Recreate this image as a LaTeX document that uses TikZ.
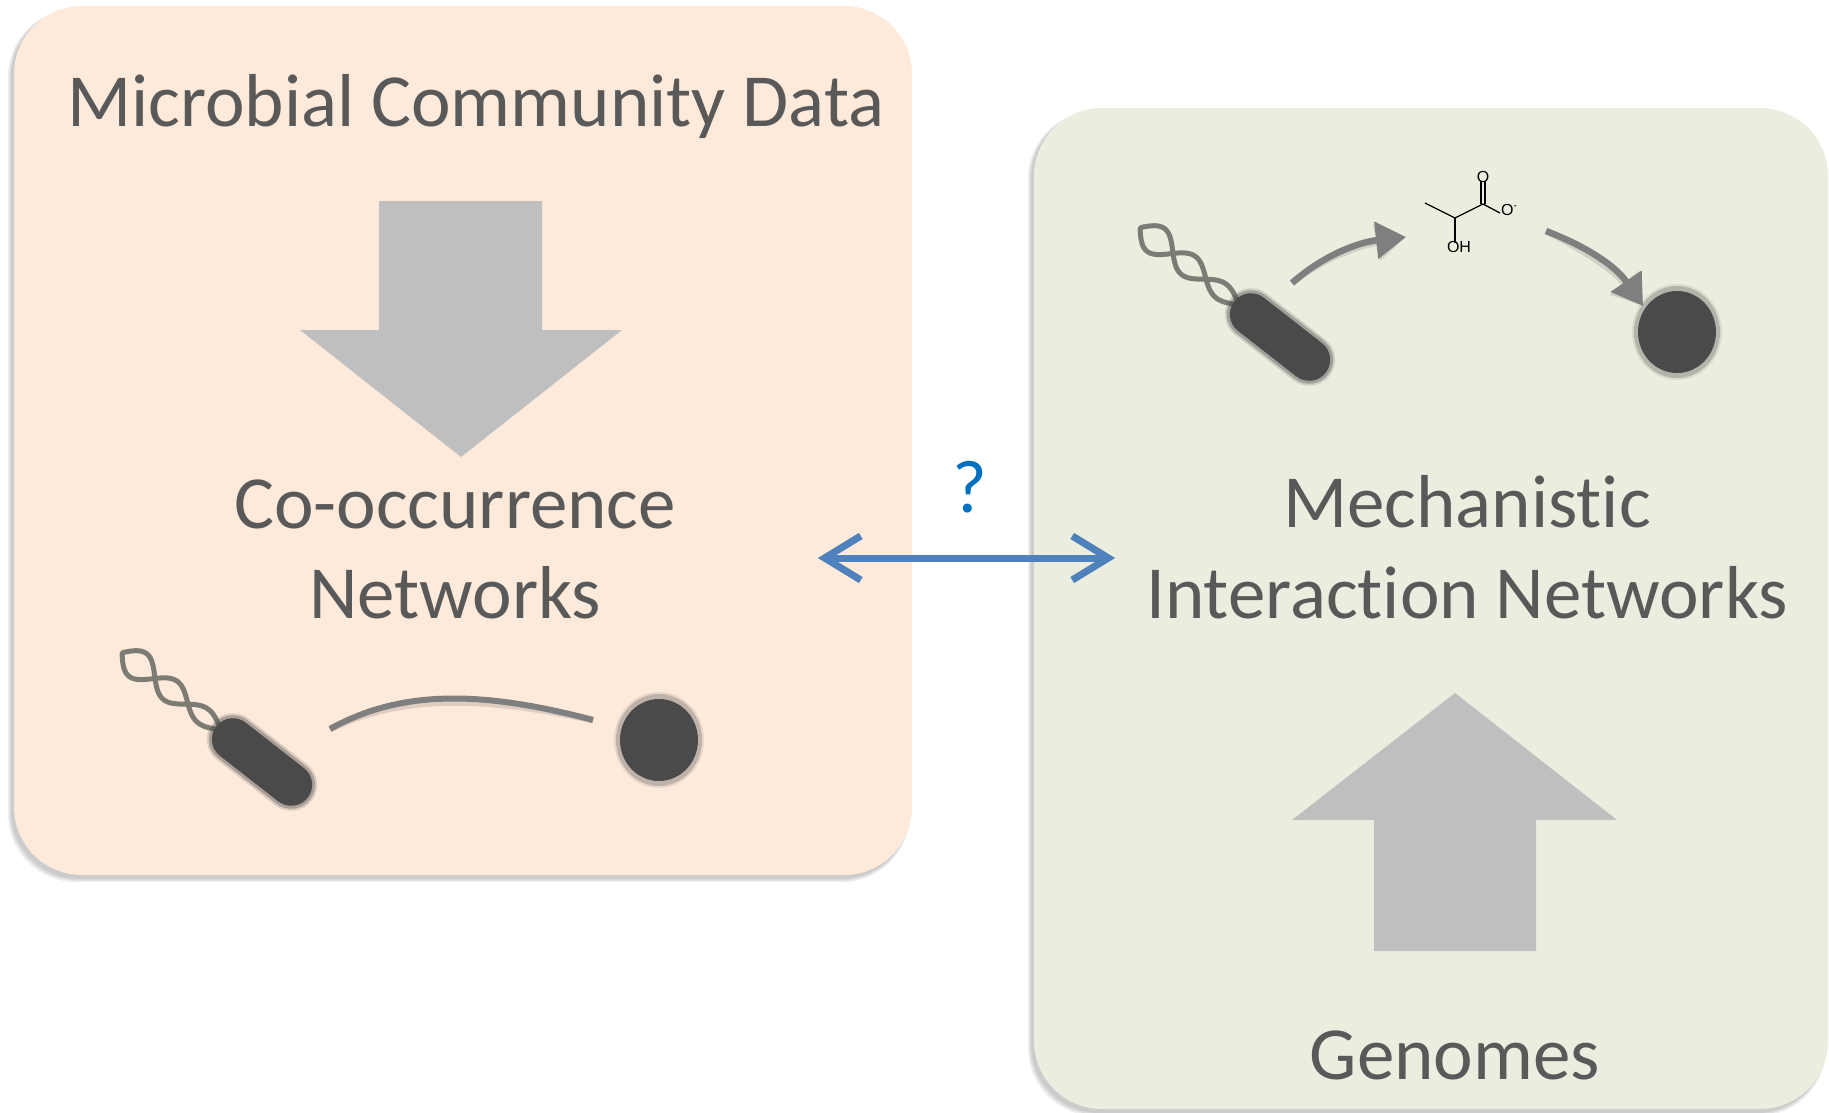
\documentclass[tikz,border=0pt]{standalone}
\usepackage{fontspec}
\setmainfont{Carlito}[Ligatures={NoCommon}]
\newfontfamily\chemfont{Liberation Sans}
\usetikzlibrary{arrows.meta,shapes.geometric}

\definecolor{peach}{HTML}{FDEADB}
\definecolor{sage}{HTML}{EBEEDF}
\definecolor{inkgray}{HTML}{595959}
\definecolor{bigarrow}{HTML}{BFBFBF}
\definecolor{linkgray}{HTML}{7F7F7F}
\definecolor{cellgray}{HTML}{4A4A4A}
\definecolor{flagellum}{HTML}{7C7C74}
\definecolor{qblue}{HTML}{0070C0}
\definecolor{arrowblue}{HTML}{4F81BD}

\tikzset{
  panel/.style={rounded corners=68pt},
  paneltext/.style={text=inkgray, font=\fontsize{75}{90}\selectfont, anchor=base, inner sep=0pt},
  bigshape/.style={fill=bigarrow},
  coccus/.style={ellipse, fill=cellgray, minimum width=78pt, minimum height=82pt, inner sep=0pt},
  linkline/.style={linkgray, line width=6pt},
  fluxarrow/.style={linkgray, line width=6.5pt, -{Triangle[length=30pt,width=36pt]}},
  chembond/.style={black, line width=1.3pt},
  chemlabel/.style={font=\chemfont\fontsize{16}{16}\selectfont, inner sep=0pt},
  qarrow/.style={arrowblue, line width=7pt,
    {Straight Barb[length=36pt,width=44pt]}-{Straight Barb[length=36pt,width=44pt]}},
  strand/.style={flagellum, line width=5pt, line cap=round, line join=round},
}

% soft shadow of a rounded panel (offset to the lower left)
\newcommand\panelshadow[4]{%
  \foreach \g in {0,1.5,3}
    \fill[black, opacity=.07, rounded corners=68pt]
      (#1-3-\g, #2+3) rectangle (#3-3+\g*0.3, #4+4+\g);}

% fuzzy rim round a round cell
\newcommand\cellhalo[1]{%
  \fill[cellgray, opacity=.12] (#1) ellipse (45 and 48);
  \fill[cellgray, opacity=.25] (#1) ellipse (43 and 46);}

% rod-shaped bacterium with a twisted flagellum: name, centre, rotation
\newcommand\microbe[3]{%
  \begin{scope}[shift={#2}, rotate=#3]
    \draw[strand] plot[domain=0:125, samples=120, variable=\t]
      ({-52-\t}, {(7+\t*0.07)*sin(\t*4.3)});
    \draw[strand] plot[domain=0:125, samples=120, variable=\t]
      ({-52-\t}, {-(7+\t*0.07)*sin(\t*4.3)});
    \fill[cellgray, opacity=.18, rounded corners=26pt] (-63,-26) rectangle (63,26);
    \fill[cellgray, opacity=.35, rounded corners=24pt] (-61,-24) rectangle (61,24);
    \fill[cellgray, rounded corners=21pt] (-58,-21) rectangle (58,21);
    \coordinate (#1) at (0,0);
  \end{scope}}

\begin{document}
\begin{tikzpicture}[x=1pt, y=-1pt]
\useasboundingbox (0,0) rectangle (1829,1113);
\fill[white] (0,0) rectangle (1829,1113);

% ---------- panels ----------
\panelshadow{14}{6}{912}{875}
\fill[peach, panel] (14,6) rectangle (912,875);
\panelshadow{1034}{108}{1828}{1109}
\fill[sage, panel] (1034,108) rectangle (1828,1109);

% ---------- left panel: community data ----------
\node[paneltext] (data) at (476,127) {Microbial Community Data};
\fill[bigshape] (379,201) -- (542,201) -- (542,330) -- (622,330) -- (461,457)
  -- (300,330) -- (379,330) -- cycle;
\node[paneltext] (cooc1) at (455,528) {Co-occurrence};
\node[paneltext] (cooc2) at (455,618) {Networks};

\microbe{rodL}{(262,762)}{-38}
\cellhalo{659,740}
\node[coccus] (cocL) at (659,740) {};
\coordinate (linkA) at (330,729);
\coordinate (linkB) at (593,720);
\draw[black, opacity=.12, line width=7pt, yshift=-5pt]
  (linkA) .. controls (400,690) and (480,690) .. (linkB);
\draw[linkline] (linkA) .. controls (400,690) and (480,690) .. (linkB);

% ---------- right panel: mechanistic networks ----------
\microbe{rodR}{(1280,337)}{-38}
\cellhalo{1677,332}
\node[coccus] (cocR) at (1677,332) {};

% lactate
\coordinate (me) at (1425,203);
\coordinate (ch) at (1455,218);
\coordinate (cc) at (1483,204);
\coordinate (od) at (1483,181);
\coordinate (om) at (1500,213);
\coordinate (oh) at (1455,243);
\draw[chembond] (me) -- (ch) -- (cc) -- (om);
\draw[chembond] (ch) -- (oh);
\draw[chembond] ([xshift=-2pt]cc) -- ([xshift=-2pt]od);
\draw[chembond] ([xshift=2pt]cc) -- ([xshift=2pt]od);
\node[chemlabel, anchor=south] (oxo) at ([yshift=-2pt]od) {O};
\node[chemlabel, anchor=west] (oxm) at ([xshift=1pt,yshift=3pt]om) {O$^{\mathchar"2D}$};
\node[chemlabel, anchor=north] (hyd) at ([xshift=4pt,yshift=2pt]oh) {OH};

\coordinate (f1a) at (1292,283);
\coordinate (f1b) at (1406,237);
\coordinate (f2a) at (1546,231);
\coordinate (f2b) at (1643,306);
\begin{scope}[xshift=-2pt, yshift=-4pt]
  \draw[fluxarrow, black, opacity=.12] (f1a) .. controls (1325,254) and (1360,242) .. (f1b);
  \draw[fluxarrow, black, opacity=.12] (f2a) .. controls (1585,246) and (1615,265) .. (f2b);
\end{scope}
\draw[fluxarrow] (f1a) .. controls (1325,254) and (1360,242) .. (f1b);
\draw[fluxarrow] (f2a) .. controls (1585,246) and (1615,265) .. (f2b);

\node[paneltext] (mech1) at (1467,527) {Mechanistic};
\node[paneltext] (mech2) at (1467,618) {Interaction Networks};
\fill[bigshape] (1374,951) -- (1536,951) -- (1536,820) -- (1617,820) -- (1455,693)
  -- (1292,820) -- (1374,820) -- cycle;
\node[paneltext] (gen) at (1455,1079) {Genomes};

% ---------- link between the two views ----------
\node[paneltext, text=qblue] (ask) at (970,512) {?};
\coordinate (qa) at (818,558);
\coordinate (qb) at (1115,558);
\draw[qarrow, black, opacity=.2, xshift=3pt, yshift=-4pt] (qa) -- (qb);
\draw[qarrow] (qa) -- (qb);
\end{tikzpicture}
\end{document}
